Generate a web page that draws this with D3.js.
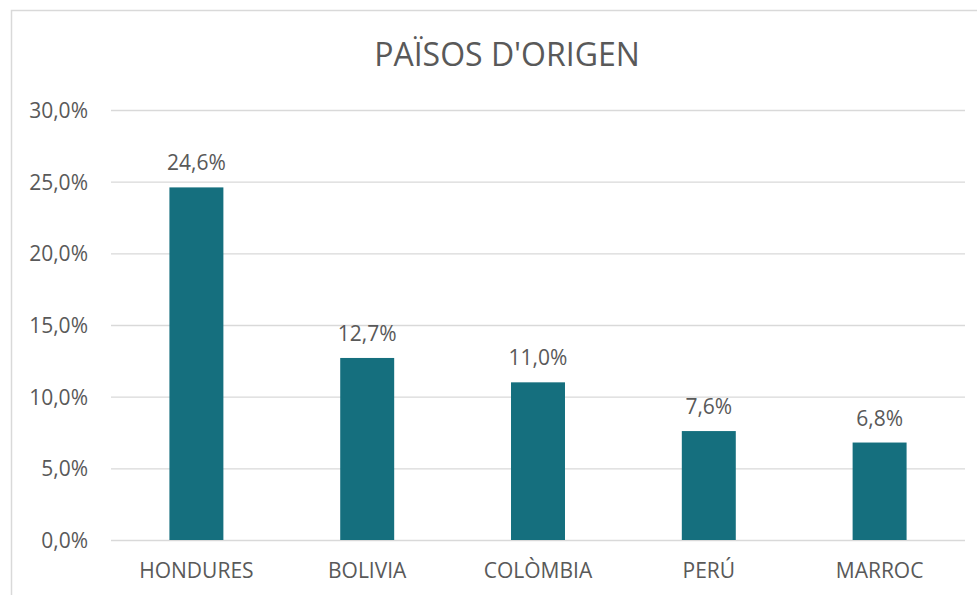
<!DOCTYPE html>
<html>
<head>
<meta charset="utf-8">
<script src="https://cdn.jsdelivr.net/npm/d3@7"></script>
<style>
  body { margin: 0; background: #fff; }
  text { font-family: "Open Sans", sans-serif; fill: #595959; }
</style>
</head>
<body>
<div id="chart"></div>
<script>
// values
const countries = ["HONDURES", "BOLIVIA", "COLÒMBIA", "PERÚ", "MARROC"];
const shares = [24.6, 12.7, 11.0, 7.6, 6.8];
const yTicks = [0, 5, 10, 15, 20, 25, 30];
const chartTitle = "PAÏSOS D'ORIGEN";

const W = 977, H = 595;
const margin = { top: 110, right: 12, bottom: 55, left: 111 };

const svg = d3.select("#chart").append("svg")
  .attr("width", W)
  .attr("height", H);

// chart frame (right and bottom edges fall outside the picture)
svg.append("rect")
  .attr("x", 11.5).attr("y", 10.5)
  .attr("width", W + 20).attr("height", H + 20)
  .attr("fill", "none")
  .attr("stroke", "#d9d9d9")
  .attr("stroke-width", 1.5);

const x = d3.scaleBand()
  .domain(countries)
  .range([margin.left, W - margin.right])
  .paddingInner(0.684)
  .paddingOuter(0.342);

const y = d3.scaleLinear()
  .domain([0, 30])
  .range([H - margin.bottom, margin.top]);

const fmt = (v) => v.toFixed(1).replace(".", ",") + "%";

// gridlines + tick labels
svg.append("g")
  .attr("transform", "translate(" + margin.left + ",0)")
  .call(d3.axisRight(y).tickValues(yTicks).tickSize(W - margin.right - margin.left).tickFormat(fmt))
  .call((g) => g.select(".domain").remove())
  .call((g) => g.selectAll(".tick line").attr("stroke", "#d9d9d9").attr("stroke-width", 1.3))
  .call((g) => g.selectAll(".tick text")
    .attr("x", -23)
    .attr("text-anchor", "end")
    .attr("dy", "0.36em")
    .style("font-size", "21px")
    .style("fill", "#595959"));

// bars
svg.append("g")
  .selectAll("rect")
  .data(shares)
  .join("rect")
  .attr("x", (d, i) => x(countries[i]))
  .attr("y", (d) => y(d))
  .attr("width", x.bandwidth())
  .attr("height", (d) => y(0) - y(d))
  .attr("fill", "#156f7e");

// value labels
svg.append("g")
  .selectAll("text")
  .data(shares)
  .join("text")
  .attr("x", (d, i) => x(countries[i]) + x.bandwidth() / 2)
  .attr("y", (d) => y(d) - 17)
  .attr("text-anchor", "middle")
  .style("font-size", "21px")
  .text(fmt);

// category labels
svg.append("g")
  .attr("transform", "translate(0," + y(0) + ")")
  .call(d3.axisBottom(x).tickSize(0).tickPadding(0))
  .call((g) => g.select(".domain").remove())
  .call((g) => g.selectAll(".tick text")
    .attr("y", 38)
    .attr("dy", 0)
    .style("font-size", "21px")
    .style("fill", "#595959"));

// title
svg.append("text")
  .attr("x", 507)
  .attr("y", 66)
  .attr("text-anchor", "middle")
  .style("font-size", "32px")
  .text(chartTitle);
</script>
</body>
</html>
